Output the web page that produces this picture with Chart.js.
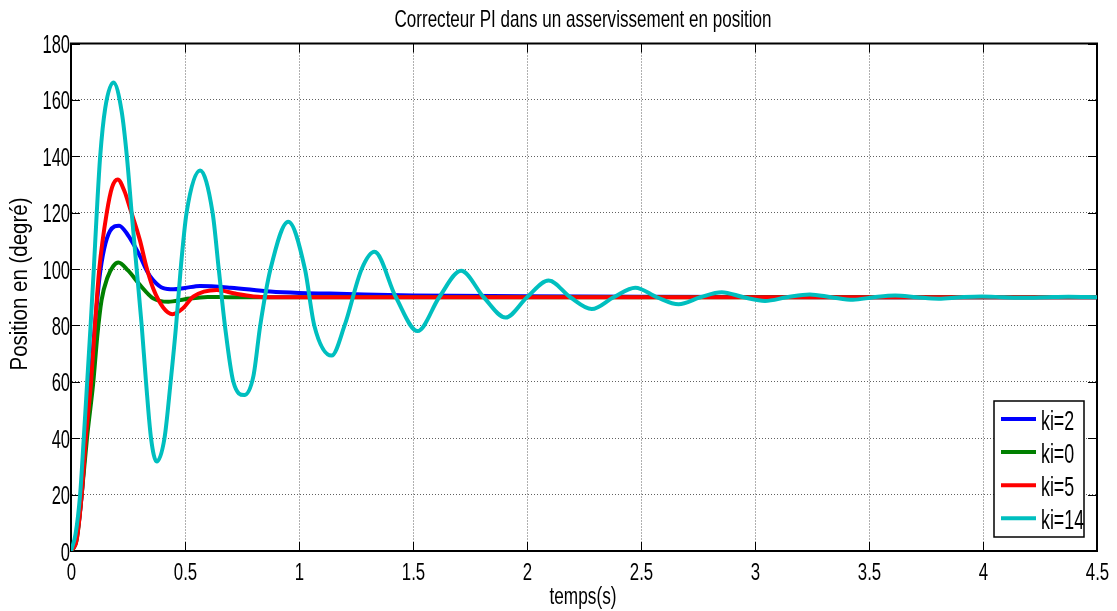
<!DOCTYPE html>
<html><head><meta charset="utf-8">
<script src="https://cdn.jsdelivr.net/npm/chart.js@4.4.1/dist/chart.umd.min.js"></script>
<style>html,body{margin:0;padding:0;background:#fff;overflow:hidden}#wrap{width:1117px;height:611px}</style>
</head><body><div id="wrap"><canvas id="c" width="1117" height="611"></canvas></div>
<script>
const FONT = "'Liberation Sans','Arimo','DejaVu Sans',sans-serif";
const chartTitle = 'Correcteur PI dans un asservissement en position';
const xTitle = 'temps(s)';
const yTitle = 'Position en (degré)';
const seriesLabels = ['ki=2', 'ki=0', 'ki=5', 'ki=14'];
const seriesColors = ['#0000ff', '#008000', '#ff0000', '#00bfbf'];
const xTickValues = [0, 0.5, 1, 1.5, 2, 2.5, 3, 3.5, 4, 4.5];
const xTickLabels = ['0', '0.5', '1', '1.5', '2', '2.5', '3', '3.5', '4', '4.5'];
const yTickValues = [0, 20, 40, 60, 80, 100, 120, 140, 160, 180];
const yTickLabels = ['0', '20', '40', '60', '80', '100', '120', '140', '160', '180'];

// ki = 2 (blue)
const ki2_t = [0,0.025,0.047,0.065,0.085,0.105,0.125,0.145,0.171,0.211,0.25,0.28,0.303,0.335,0.361,0.405,0.449,0.5,0.566,0.7,0.873,1.0,1.136,1.5,2.0,2.5,3.0,3.5,4.5];
const ki2_v = [0,5,20,40,60,80,97,107,113.5,115.4,112,108,104.5,99,96,93.2,92.8,93.3,94,93.4,92,91.5,91.3,90.6,90.35,90.15,90.05,90,90];
// ki = 0 (green)
const ki0_t = [0,0.025,0.047,0.07,0.098,0.115,0.134,0.16,0.185,0.208,0.25,0.303,0.36,0.427,0.5,0.6,0.7,1.0,4.5];
const ki0_v = [0,4,20,40,60,76,89,97,101,102.3,99.5,94.3,89.6,88.4,89.3,90.1,90,90,90];
// ki = 5 (red)
const ki5_t = [0,0.025,0.047,0.065,0.088,0.105,0.124,0.157,0.18,0.205,0.235,0.259,0.303,0.33,0.361,0.405,0.445,0.49,0.536,0.64,0.72,0.8,0.9,4.5];
const ki5_v = [0,4,20,40,60,80,100,120,129,131.8,127.5,121.5,110,101,93,86.3,84,86,90.2,92.6,91.3,90.3,90,90];
// ki = 14 (cyan)
const ki14_t = [0,0.02,0.04,0.056,0.071,0.086,0.1,0.113,0.128,0.15,0.186,0.222,0.245,0.266,0.288,0.31,0.329,0.351,0.376,0.41,0.437,0.461,0.481,0.507,0.566,0.621,0.648,0.675,0.712,0.76,0.8,0.83,0.875,0.953,1.026,1.067,1.143,1.2,1.275,1.331,1.425,1.52,1.615,1.711,1.81,1.906,2.0,2.095,2.19,2.284,2.38,2.475,2.57,2.665,2.76,2.854,2.95,3.044,3.14,3.24,3.335,3.43,3.52,3.615,3.71,3.805,3.9,3.995,4.09,4.185,4.28,4.375,4.5];
const ki14_v = [0,6,20,40,60,80,100,120,140,157,166.2,156,140,120,100,80,60,40,31.7,40,60,80,100,120,135,120,100,80,60,55.3,62,80,100,116.8,100,80,69.3,80,100,106.1,90,78,90,99.4,90,82.8,90,95.9,90,85.8,90,93.4,90,87.5,90,91.8,90,88.7,90,91,90,89.1,90,90.6,90,89.5,90,90.3,90,89.8,90,90.15,90];

const seriesT = [ki2_t, ki0_t, ki5_t, ki14_t];
const seriesV = [ki2_v, ki0_v, ki5_v, ki14_v];
const drawOrder = [3, 2, 1, 0];

const datasets = seriesLabels.map((lab, i) => ({
  label: lab,
  data: seriesT[i].map((t, j) => ({x: t, y: seriesV[i][j]})),
  borderColor: seriesColors[i],
  backgroundColor: seriesColors[i],
  borderWidth: 4,
  pointRadius: 0,
  fill: false,
  cubicInterpolationMode: 'monotone',
  order: drawOrder[i]
}));

// narrow (condensed) text helper: real canvas text, squeezed horizontally
function narrowText(ctx, text, x, y, size, align, opts) {
  opts = opts || {};
  ctx.save();
  ctx.font = size + 'px ' + FONT;
  const w = ctx.measureText(text).width;
  const s = opts.width ? opts.width / w : (opts.sx || 0.68);
  ctx.translate(x, y);
  if (opts.rotate) ctx.rotate(opts.rotate);
  ctx.scale(s, 1);
  ctx.textAlign = align;
  ctx.textBaseline = 'alphabetic';
  ctx.fillStyle = '#000';
  ctx.fillText(text, 0, 0);
  ctx.restore();
}

const framePlugin = {
  id: 'frame',
  beforeDatasetsDraw(chart) {
    const {ctx, chartArea: a, scales: {x, y}} = chart;
    ctx.save();
    ctx.strokeStyle = '#000';
    ctx.lineWidth = 1;
    ctx.beginPath();
    x.ticks.forEach(t => {
      const px = Math.round(x.getPixelForValue(t.value)) + 0.5;
      ctx.moveTo(px, a.bottom); ctx.lineTo(px, a.bottom - 9);
      ctx.moveTo(px, a.top); ctx.lineTo(px, a.top + 9);
    });
    y.ticks.forEach(t => {
      const py = Math.round(y.getPixelForValue(t.value)) + 0.5;
      ctx.moveTo(a.left, py); ctx.lineTo(a.left + 9, py);
      ctx.moveTo(a.right, py); ctx.lineTo(a.right - 9, py);
    });
    ctx.stroke();
    ctx.lineWidth = 2;
    ctx.strokeRect(a.left, a.top, a.right - a.left, a.bottom - a.top);
    ctx.restore();
  },
  afterDatasetsDraw(chart) {
    const {ctx, chartArea: a} = chart;
    const w = 90, h = 136;
    const bx = a.right - 13 - w, by = a.bottom - 14 - h;
    ctx.save();
    ctx.fillStyle = '#fff';
    ctx.fillRect(bx, by, w, h);
    ctx.strokeStyle = '#000';
    ctx.lineWidth = 1.5;
    ctx.strokeRect(bx, by, w, h);
    ctx.restore();
    chart.data.datasets.forEach((ds, i) => {
      const cy = by + 18 + i * 33.1;
      ctx.save();
      ctx.strokeStyle = ds.borderColor;
      ctx.lineWidth = 4;
      ctx.beginPath();
      ctx.moveTo(bx + 7, cy); ctx.lineTo(bx + 42, cy);
      ctx.stroke();
      ctx.restore();
      narrowText(ctx, ds.label, bx + 47, cy + 11, 27, 'left', {sx: 0.66});
    });
  },
  afterDraw(chart) {
    const {ctx, chartArea: a, scales: {x, y}} = chart;
    // title
    narrowText(ctx, chartTitle, (a.left + a.right) / 2 - 1, 27, 24, 'center', {width: 377});
    // x tick labels
    x.ticks.forEach((t, i) => {
      narrowText(ctx, xTickLabels[i], x.getPixelForValue(t.value) + 0.5, a.bottom + 29, 24, 'center', {sx: 0.7});
    });
    // y tick labels
    y.ticks.forEach((t, i) => {
      narrowText(ctx, yTickLabels[i], a.left - 1, y.getPixelForValue(t.value) + 9.5, 25, 'right', {sx: 0.66});
    });
    // axis titles
    narrowText(ctx, xTitle, (a.left + a.right) / 2 - 1, 604, 23, 'center', {width: 67});
    narrowText(ctx, yTitle, 27, 284, 23, 'center', {width: 173, rotate: -Math.PI / 2});
  }
};

new Chart(document.getElementById('c'), {
  type: 'line',
  data: {datasets},
  plugins: [framePlugin],
  options: {
    responsive: false,
    animation: false,
    devicePixelRatio: 1,
    layout: {padding: {left: 0, right: 20, top: 43.5, bottom: 0}},
    plugins: {
      legend: {display: false},
      tooltip: {enabled: false},
      title: {display: false, text: chartTitle}
    },
    scales: {
      x: {
        type: 'linear', min: 0, max: 4.5,
        afterBuildTicks: s => { s.ticks = xTickValues.map(v => ({value: v})); },
        afterFit: s => { s.height = 60; },
        ticks: {display: false, autoSkip: false, callback: (v, i) => xTickLabels[i]},
        grid: {color: 'rgba(0,0,0,0.62)', lineWidth: 1, drawTicks: false},
        border: {display: true, color: '#000', width: 2, dash: [1, 2]},
        title: {display: false, text: xTitle}
      },
      y: {
        type: 'linear', min: 0, max: 180,
        afterBuildTicks: s => { s.ticks = yTickValues.map(v => ({value: v})); },
        afterFit: s => { s.width = 71; },
        ticks: {display: false, autoSkip: false, callback: (v, i) => yTickLabels[i]},
        grid: {color: 'rgba(0,0,0,0.62)', lineWidth: 1, drawTicks: false},
        border: {display: true, color: '#000', width: 2, dash: [1, 2]},
        title: {display: false, text: yTitle}
      }
    }
  }
});
</script></body></html>
